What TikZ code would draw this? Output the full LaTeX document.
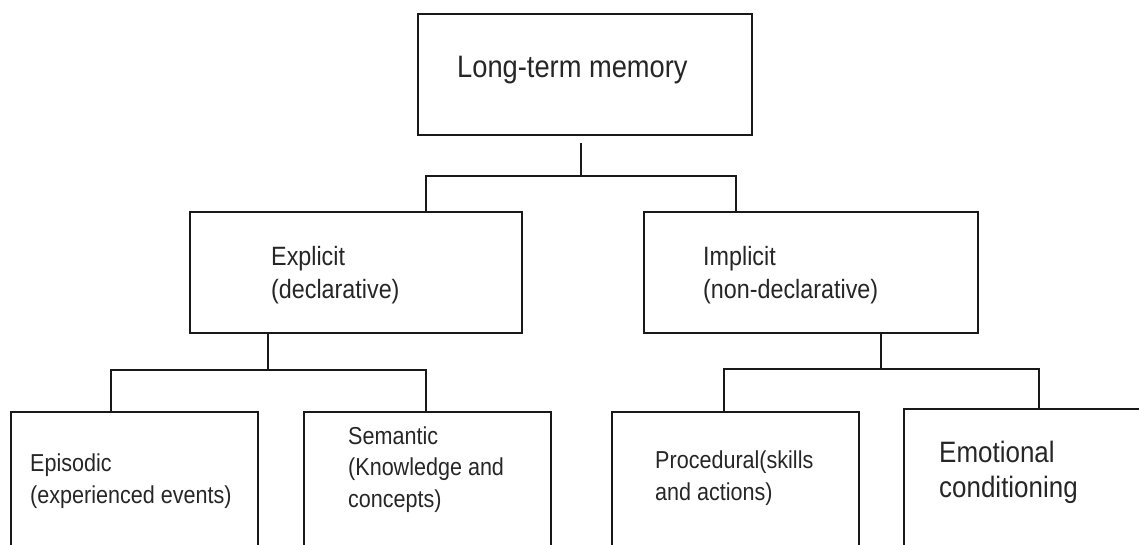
\documentclass[tikz,border=0pt]{standalone}
\usepackage{fontspec}
\newfontfamily\lab{Liberation Sans}[FakeStretch=0.88]
\begin{document}
\begin{tikzpicture}[x=1pt,y=-1pt,
  box/.style={draw=black!90,line width=2.6pt,rectangle,anchor=north west,inner sep=0pt,outer sep=0pt},
  conn/.style={draw=black!90,line width=2.6pt},
  lbl/.style={anchor=base west,inner sep=0pt,align=left,text=black!85},
  fbig/.style={font=\lab\fontsize{31}{36}\selectfont},
  fmid/.style={font=\lab\fontsize{26.5}{33}\selectfont},
  fsmall/.style={font=\lab\fontsize{24.5}{31.5}\selectfont},
  femo/.style={font=\lab\fontsize{29.5}{35}\selectfont}]
\useasboundingbox (0,0) rectangle (1139,544);
\clip (0,0) rectangle (1139,544);
% boxes
\node[box,minimum width=334pt,minimum height=121pt] (top) at (418,14) {};
\node[box,minimum width=332pt,minimum height=121pt] (expl) at (190,212) {};
\node[box,minimum width=334pt,minimum height=121pt] (impl) at (644,212) {};
\node[box,minimum width=247pt,minimum height=160pt] (epi) at (11,412) {};
\node[box,minimum width=247pt,minimum height=160pt] (sem) at (304,412) {};
\node[box,minimum width=247pt,minimum height=160pt] (proc) at (612,412) {};
\node[box,minimum width=270pt,minimum height=160pt] (emo) at (904,409) {};
% labels (base anchor = baseline of last line)
\node[lbl,fbig] (ttop) at (457,77) {Long-term memory};
\node[lbl,fmid] (texpl) at (271,298) {Explicit\\(declarative)};
\node[lbl,fmid] (timpl) at (703,298) {Implicit\\(non-declarative)};
\node[lbl,fsmall] (tepi) at (30,503) {Episodic\\(experienced events)};
\node[lbl,fsmall] (tsem) at (348,507) {Semantic\\(Knowledge and\\concepts)};
\node[lbl,fsmall] (tproc) at (655,500) {Procedural(skills\\and actions)};
\node[lbl,femo] (temo) at (939,497) {Emotional\\conditioning};
% connectors
\coordinate (t1) at (581,143);
\coordinate (t2) at (581,176);
\coordinate (hl) at (426,176);
\coordinate (hr) at (736,176);
\draw[conn] (t1) -- (t2);
\draw[conn] (hl |- expl.north) -- (hl) -- (hr) -- (hr |- impl.north);
\coordinate (e1) at (268,370);
\coordinate (el) at (111,370);
\coordinate (er) at (426,370);
\draw[conn] (e1 |- expl.south) -- (e1);
\draw[conn] (el |- epi.north) -- (el) -- (er) -- (er |- sem.north);
\coordinate (i1) at (881,369);
\coordinate (il) at (724,369);
\coordinate (ir) at (1039,369);
\draw[conn] (i1 |- impl.south) -- (i1);
\draw[conn] (il |- proc.north) -- (il) -- (ir) -- (ir |- emo.north);
\end{tikzpicture}
\end{document}
